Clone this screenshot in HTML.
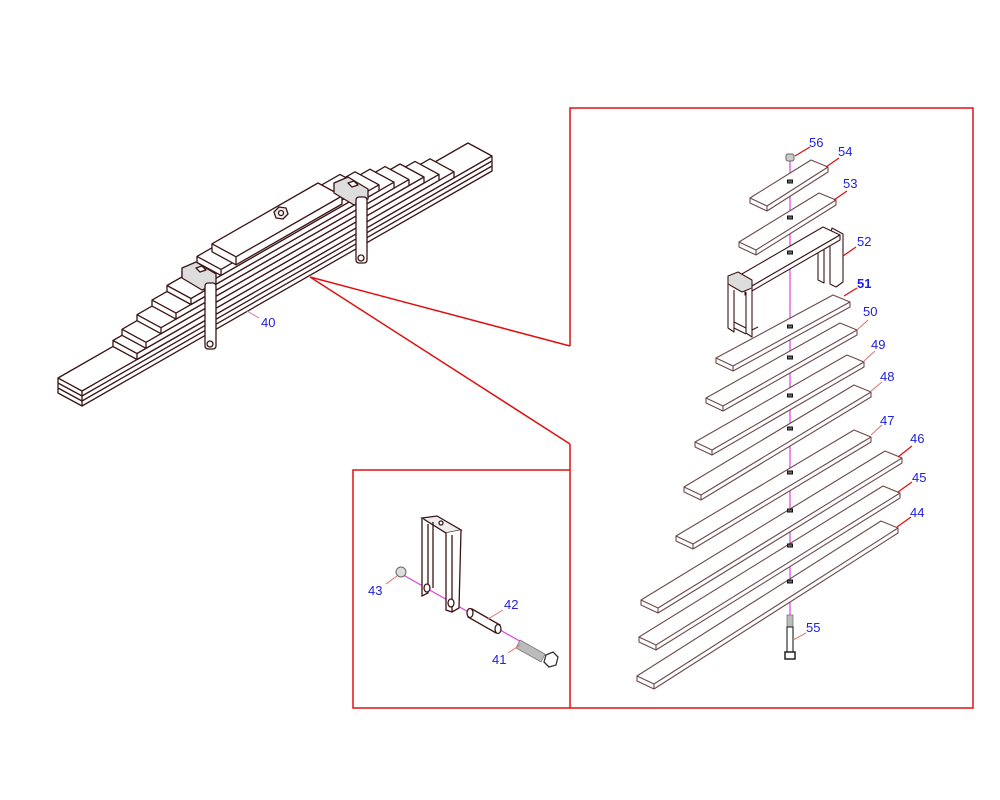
<!DOCTYPE html>
<html><head><meta charset="utf-8"><style>
html,body{margin:0;padding:0;background:#fff;}
svg{display:block;}
text{font-family:"Liberation Sans",sans-serif;font-size:13px;fill:#2020e0;}
</style></head><body>
<svg width="1000" height="800" viewBox="0 0 1000 800" xmlns="http://www.w3.org/2000/svg">
<g stroke="#e01010" stroke-width="1.5" fill="none">
<polyline points="570,346 570,108 973,108 973,708 353,708 353,470 570,470"/>
<line x1="570" y1="444" x2="570" y2="708"/>
<line x1="310" y1="277" x2="570" y2="346"/>
<line x1="310" y1="277" x2="570" y2="444"/>
</g>

<g stroke="#3a1515" stroke-width="1.3" fill="#fff" stroke-linejoin="round">
<path d="M58,378 L468,143 L492,156 L492,171 L82,406 L58,393 Z M82,391 L492,156 M58,378 L82,391 L82,406 M82,396 L492,161 M82,401 L492,166 M58,383 L82,396 M58,388 L82,401"/>
<path d="M113,340.5 L430,158.8 L454,171.8 L454,177.8 L137,359.5 L113,346.5 Z M137,353.5 L454,171.8 M113,340.5 L137,353.5 L137,359.5"/>
<path d="M122,329.3 L415,161.4 L439,174.4 L439,180.4 L146,348.3 L122,335.3 Z M146,342.3 L439,174.4 M122,329.3 L146,342.3 L146,348.3"/>
<path d="M137,314.7 L400,164 L424,177 L424,183 L161,333.7 L137,320.7 Z M161,327.7 L424,177 M137,314.7 L161,327.7 L161,333.7"/>
<path d="M152,300.1 L385,166.6 L409,179.6 L409,185.6 L176,319.1 L152,306.1 Z M176,313.1 L409,179.6 M152,300.1 L176,313.1 L176,319.1"/>
<path d="M167,285.5 L370,169.2 L394,182.2 L394,188.2 L191,304.5 L167,291.5 Z M191,298.5 L394,182.2 M167,285.5 L191,298.5 L191,304.5"/>
<path d="M182,271 L355,171.8 L379,184.8 L379,190.8 L206,290 L182,277 Z M206,284 L379,184.8 M182,271 L206,284 L206,290"/>
<path d="M197,256.4 L340,174.4 L364,187.4 L364,193.4 L221,275.4 L197,262.4 Z M221,269.4 L364,187.4 M197,256.4 L221,269.4 L221,275.4"/>
<path d="M212,243.8 L318,183 L342,196 L342,204 L236,264.8 L212,251.8 Z M236,256.8 L342,196 M212,243.8 L236,256.8 L236,264.8"/>
<polygon points="274,212 279,207 286,208 288,214 283,219 276,218" fill="#eee"/>
<circle cx="281" cy="213" r="2.5"/>
<polygon points="182,268 196,262 216,274 216,284 202,290 182,278" fill="#ddd"/>
<rect x="205" y="283" width="11" height="66" rx="3"/>
<circle cx="210" cy="344" r="3"/>
<polygon points="196,268 202,266 206,270 200,272" fill="#fff"/>
<polygon points="334,183 348,177 368,189 368,199 354,205 334,193" fill="#ddd"/>
<rect x="356" y="197" width="11" height="66" rx="3"/>
<circle cx="361" cy="258" r="3"/>
<polygon points="348,183 354,181 358,185 352,187" fill="#fff"/>
</g>
<line x1="247" y1="311" x2="259" y2="318" stroke="#e0709a" stroke-width="1"/>
<text x="261" y="327">40</text>

<line x1="790" y1="160" x2="790" y2="630" stroke="#e040e0" stroke-width="1.2"/>

<g stroke="#6a4a4a" stroke-width="1.1" fill="#fff" stroke-linejoin="round">
<path d="M750,198 L811,160 L828,167 L828,172 L767,211 L750,203 Z M767,206 L828,167 M750,198 L767,206 L767,211"/>
<path d="M739,242 L819,193 L836,200 L836,205 L756,255 L739,247 Z M756,250 L836,200 M739,242 L756,250 L756,255"/>
<g stroke="#3a1515">
<path d="M818,232 L818,280 L824,283 L824,242 M832,228 L843,234 L843,282 L836,287 L830,284 L830,236 Z" />
<path d="M728,282 L823,227 L840,235 L745,290 Z"/>
<path d="M745,290 L840,235 L840,240 L745,295 Z"/>
<polygon points="728,276 738,272 752,280 752,288 742,292 728,284" fill="#ddd"/>
<path d="M728,284 L728,328 L734,332 L734,290 M746,292 L746,333 L752,337 L752,288 M734,322 L746,328 M734,328 L746,334 M752,330 L758,327"/>
</g>
<path d="M716,358 L833,295 L850,302 L850,307 L733,371 L716,363 Z M733,366 L850,302 M716,358 L733,366 L733,371"/>
<path d="M706,398 L840,323 L857,330 L857,335 L723,411 L706,403 Z M723,406 L857,330 M706,398 L723,406 L723,411"/>
<path d="M695,442 L847,355 L864,362 L864,367 L712,455 L695,447 Z M712,450 L864,362 M695,442 L712,450 L712,455"/>
<path d="M684,487 L854,385 L871,392 L871,397 L701,500 L684,492 Z M701,495 L871,392 M684,487 L701,495 L701,500"/>
<path d="M676,536 L854,430 L871,437 L871,442 L693,549 L676,541 Z M693,544 L871,437 M676,536 L693,544 L693,549"/>
<path d="M641,600 L885,451 L902,458 L902,463 L658,613 L641,605 Z M658,608 L902,458 M641,600 L658,608 L658,613"/>
<path d="M639,637 L883,486 L900,493 L900,498 L656,650 L639,642 Z M656,645 L900,493 M639,637 L656,645 L656,650"/>
<path d="M637,676 L881,521 L898,528 L898,533 L654,689 L637,681 Z M654,684 L898,528 M637,676 L654,684 L654,689"/>
</g>
<g fill="#666" stroke="#111" stroke-width="1">
<rect x="787.5" y="180" width="5" height="3"/><rect x="787.5" y="216" width="5" height="3"/>
<rect x="787.5" y="251" width="5" height="3"/><rect x="787.5" y="325" width="5" height="3"/>
<rect x="787.5" y="356" width="5" height="3"/><rect x="787.5" y="394" width="5" height="3"/>
<rect x="787.5" y="427" width="5" height="3"/><rect x="787.5" y="471" width="5" height="3"/>
<rect x="787.5" y="509" width="5" height="3"/><rect x="787.5" y="544" width="5" height="3"/>
<rect x="787.5" y="580" width="5" height="3"/>
</g>
<rect x="786" y="154" width="8" height="7" rx="2" fill="#ccc" stroke="#666"/>
<rect x="787" y="615" width="6" height="12" fill="#bbb" stroke="#777" stroke-width="0.8"/>
<rect x="787" y="627" width="6" height="26" fill="#fff" stroke="#333" stroke-width="1.2"/>
<rect x="785" y="652" width="10" height="7" fill="#fff" stroke="#222" stroke-width="1.5"/>

<g stroke="#e01010" stroke-width="1.3">
<line x1="795" y1="156" x2="810" y2="147"/>
<line x1="826" y1="167" x2="839" y2="158"/>
<line x1="834" y1="200" x2="847" y2="191"/>
<line x1="843" y1="256" x2="856" y2="247"/>
<line x1="844" y1="296" x2="857" y2="288"/>
<line x1="898" y1="457" x2="912" y2="446"/>
<line x1="898" y1="492" x2="912" y2="482"/>
<line x1="897" y1="527" x2="911" y2="517"/>
</g>
<g stroke="#e07070" stroke-width="1">
<line x1="857" y1="330" x2="868" y2="320"/>
<line x1="864" y1="361" x2="875" y2="351"/>
<line x1="871" y1="391" x2="882" y2="382"/>
<line x1="871" y1="435" x2="882" y2="425"/>
<line x1="793" y1="640" x2="806" y2="633"/>
</g>
<text x="809" y="147">56</text>
<text x="838" y="156">54</text>
<text x="843" y="188">53</text>
<text x="857" y="246">52</text>
<text x="857" y="288" style="font-weight:bold">51</text>
<text x="863" y="316">50</text>
<text x="871" y="349">49</text>
<text x="880" y="381">48</text>
<text x="880" y="425">47</text>
<text x="910" y="443">46</text>
<text x="912" y="482">45</text>
<text x="910" y="517">44</text>
<text x="806" y="632">55</text>

<line x1="398" y1="572" x2="553" y2="660" stroke="#e040e0" stroke-width="1.2"/>
<g stroke="#3a1515" stroke-width="1.3" fill="#fff">
<polygon points="422,518 437,516 461,530 446,533" fill="#eee"/>
<path d="M422,518 L422,596 L428,593 L428,524 M433,522 L433,588 M446,533 L446,610 L452,612 L459,608 L461,530 M452,535 L452,612"/>
<circle cx="441" cy="523" r="2"/>
<ellipse cx="427" cy="588" rx="3" ry="4"/>
<ellipse cx="451" cy="603" rx="3" ry="4"/>
<path d="M472,609 L500,625 L496,633 L468,617 Z"/>
<ellipse cx="470" cy="613" rx="3" ry="4.5"/>
<ellipse cx="498" cy="629" rx="3" ry="4.5"/>
</g>
<circle cx="401" cy="572" r="5" fill="#ddd" stroke="#666"/>
<path d="M520,640 L545,654 L541,662 L516,648 Z" fill="#bbb" stroke="#777" stroke-width="0.8"/>
<polygon points="546,655 553,652 558,657 556,665 549,667 544,662" fill="#fff" stroke="#333" stroke-width="1.3"/>
<g stroke="#e07070" stroke-width="1">
<line x1="386" y1="584" x2="397" y2="576"/>
<line x1="488" y1="619" x2="503" y2="610"/>
<line x1="508" y1="653" x2="520" y2="645"/>
</g>
<text x="368" y="595">43</text>
<text x="504" y="609">42</text>
<text x="492" y="664">41</text>
</svg>
</body></html>
